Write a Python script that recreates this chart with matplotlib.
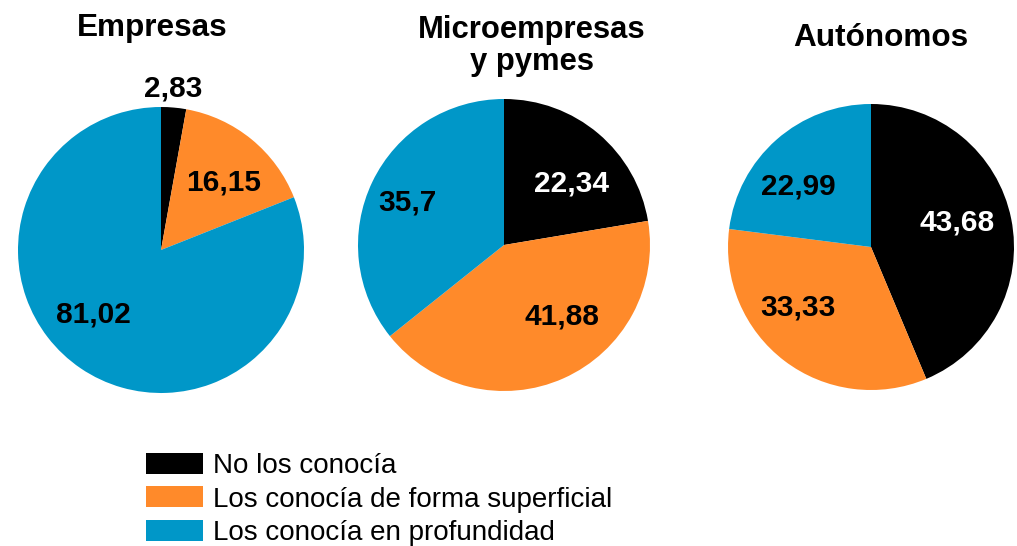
import matplotlib
matplotlib.use("Agg")
import matplotlib.pyplot as plt
from matplotlib.patches import Patch

plt.rcParams['font.family'] = ['Liberation Sans', 'DejaVu Sans']

# Datos
categorias = ['No los conocía', 'Los conocía de forma superficial', 'Los conocía en profundidad']
titulos = ['Empresas', 'Microempresas\ny pymes', 'Autónomos']
empresas = [2.83, 16.15, 81.02]
pymes = [22.34, 41.88, 35.7]
autonomos = [43.68, 33.33, 22.99]
etiquetas = [['2,83', '16,15', '81,02'],
             ['22,34', '41,88', '35,7'],
             ['43,68', '33,33', '22,99']]

colores = ['#000000', '#FF8A2A', '#0097C8']
color_texto = ['white', 'black', 'black']

W, H = 1017, 546
fig = plt.figure(figsize=(W / 100, H / 100), dpi=100)

# centro (px), radio (px), posición de las etiquetas en unidades del radio
pies = [
    ((161, 250), 143, [(0.084, 1.126), (0.44, 0.47), (-0.47, -0.45)]),
    ((504, 245), 146, [(0.46, 0.42), (0.40, -0.49), (-0.66, 0.29)]),
    ((871, 247), 143, [(0.60, 0.17), (-0.51, -0.42), (-0.51, 0.42)]),
]
valores = [empresas, pymes, autonomos]

for i, ((cx, cy), r, pos) in enumerate(pies):
    ax = fig.add_axes([(cx - r) / W, (H - cy - r) / H, 2 * r / W, 2 * r / H])
    wedges, _ = ax.pie(valores[i], colors=colores, startangle=90, counterclock=False,
                       radius=1, wedgeprops=dict(linewidth=0))
    ax.set_xlim(-1, 1)
    ax.set_ylim(-1, 1)
    ax.set_aspect('equal')
    ax.axis('off')
    for j, (x, y) in enumerate(pos):
        c = color_texto[j] if x * x + y * y < 1 else 'black'
        ax.text(x, y, etiquetas[i][j], ha='center', va='center',
                fontsize=21.5, fontweight='bold', color=c, clip_on=False)

# Títulos
fig.text(152.5 / W, 1 - 36 / H, titulos[0], ha='center', va='baseline', fontsize=22.7, fontweight='bold')
fig.text(532 / W, 1 - 46 / H, titulos[1], ha='center', va='center', fontsize=22.3, fontweight='bold',
         linespacing=1.08)
fig.text(881 / W, 1 - 46 / H, titulos[2], ha='center', va='baseline', fontsize=22.7, fontweight='bold')

# Leyenda
handles = [Patch(facecolor=c, edgecolor='none') for c in colores]
fig.legend(handles, categorias, loc='upper left', bbox_to_anchor=(146 / W, 1 - 453 / H),
           frameon=False, fontsize=20, handlelength=2.05, handleheight=0.79,
           handletextpad=0.36, labelspacing=0.26, borderpad=0, borderaxespad=0)

fig.savefig('out.png', dpi=100)
